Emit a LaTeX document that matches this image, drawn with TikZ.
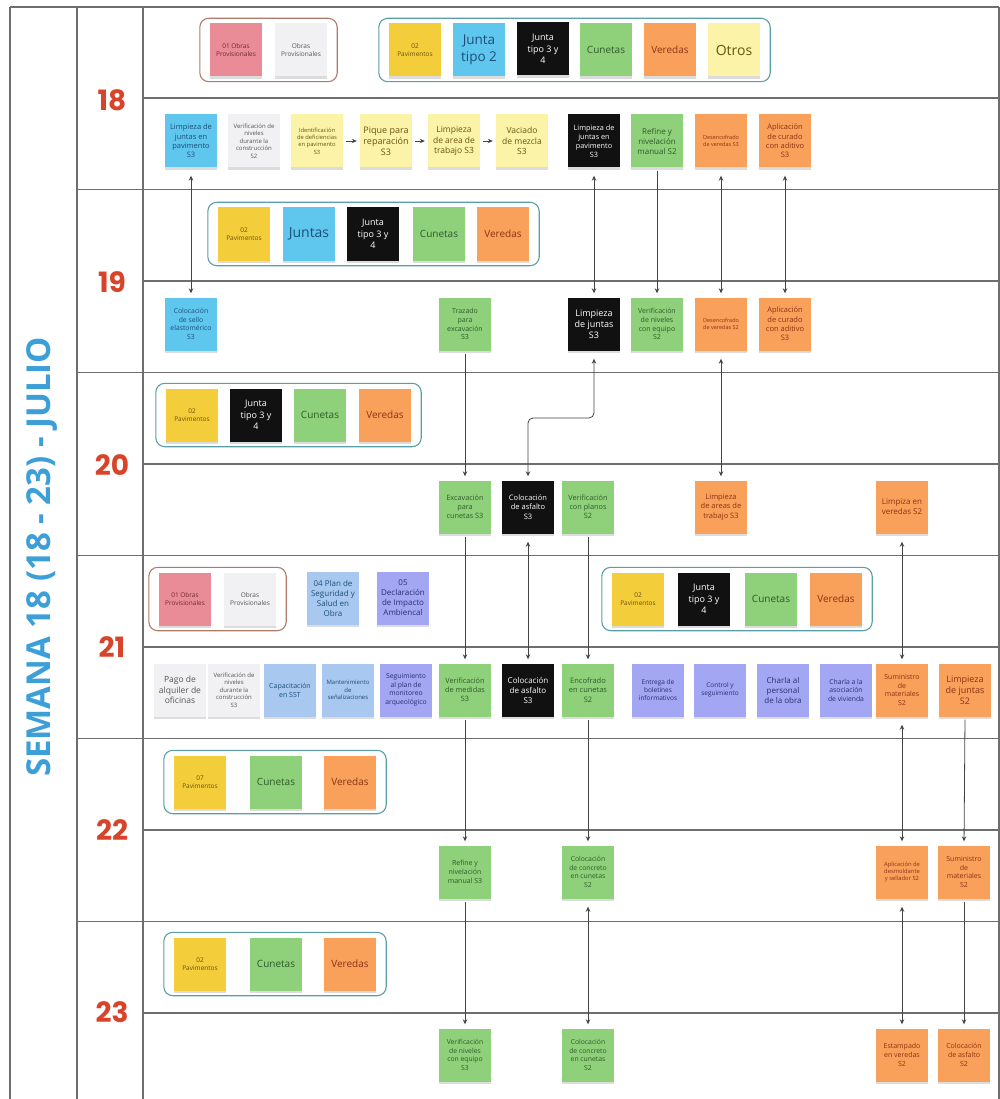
\documentclass[tikz,border=0pt]{standalone}
\usepackage{fontspec}
\usepackage{graphicx}
\setmainfont{Open Sans}
\newfontfamily\dayfont{Poppins}
\usetikzlibrary{arrows.meta,shadows,fit}
\definecolor{pinkN}{HTML}{E98C98}
\definecolor{whiteN}{HTML}{F1F1F3}
\definecolor{yelN}{HTML}{F4CD3A}
\definecolor{blueN}{HTML}{5FC6EE}
\definecolor{blackN}{HTML}{111111}
\definecolor{greenN}{HTML}{8FD07B}
\definecolor{orangeN}{HTML}{F9A05B}
\definecolor{lyelN}{HTML}{FBF4A8}
\definecolor{lblueN}{HTML}{A8C8F0}
\definecolor{purpN}{HTML}{A2A6F3}
\definecolor{greenT}{HTML}{2F5A2A}
\definecolor{orangeT}{HTML}{8A3413}
\definecolor{yelT}{HTML}{6A5211}
\definecolor{blueT}{HTML}{1B4F7A}
\definecolor{purpT}{HTML}{2A2F6E}
\definecolor{whiteT}{HTML}{555555}
\definecolor{pinkT}{HTML}{6E2A33}
\definecolor{grpTeal}{HTML}{5A9EA6}
\definecolor{grpBrown}{HTML}{B07A6A}
\definecolor{gridC}{HTML}{6E6E6E}
\definecolor{connC}{HTML}{444444}
\definecolor{dayRed}{HTML}{D8442A}
\definecolor{semBlue}{HTML}{3C9FD8}
\newcommand\fsz[1]{\fontsize{#1pt}{\dimexpr #1pt*5/4\relax}\selectfont}
\begin{document}
\begin{tikzpicture}[x=1pt,y=-1pt,
  >={Stealth[length=5pt,width=4.5pt]},
  note/.style={minimum width=52pt,minimum height=53pt,inner sep=0.5pt,align=center,
    drop shadow={shadow xshift=0pt,shadow yshift=-2.5pt,opacity=0.28}},
  nY/.style={note,fill=yelN,text=yelT},
  nLY/.style={note,fill=lyelN,text=yelT},
  nB/.style={note,fill=blueN,text=blueT},
  nK/.style={note,fill=blackN,text=white},
  nG/.style={note,fill=greenN,text=greenT},
  nO/.style={note,fill=orangeN,text=orangeT},
  nW/.style={note,fill=whiteN,text=whiteT},
  nP/.style={note,fill=pinkN,text=pinkT},
  nLB/.style={note,fill=lblueN,text=blueT},
  nPU/.style={note,fill=purpN,text=purpT},
  grpT/.style={draw=grpTeal,line width=1.1pt,rounded corners=9pt,inner xsep=10pt,inner ysep=5pt},
  grpB/.style={draw=grpBrown,line width=1.1pt,rounded corners=9pt,inner xsep=10pt,inner ysep=5pt},
  conn/.style={draw=connC,line width=0.8pt},
  gridl/.style={draw=gridC,line width=1.5pt},
  daylab/.style={text=dayRed,font=\dayfont\bfseries\fsz{28}},
]
\useasboundingbox (0,0) rectangle (1000,1099);
% grid
\draw[gridl] (10,7) -- (999,7);
\draw[gridl] (10,7) -- (10,1099);
\draw[gridl] (77,7) -- (77,1099);
\draw[gridl] (143,7) -- (143,1099);
\draw[gridl] (999,7) -- (999,1099);
\foreach \k in {2,4,6,8,10} {\draw[gridl] (77,{6.5+91.5*\k}) -- (999,{6.5+91.5*\k});}
\foreach \k in {1,3,5,7,9,11} {\draw[gridl] (143,{6.5+91.5*\k}) -- (999,{6.5+91.5*\k});}
% labels
\node[rotate=90,text=semBlue,font=\bfseries\fsz{33}] (sem) at (42,557) {SEMANA 18 (18 - 23) - JULIO};
\node[daylab] (d18) at (112,100) {18};
\node[daylab] (d19) at (112,282) {19};
\node[daylab] (d20) at (112,465) {20};
\node[daylab] (d21) at (112,647) {21};
\node[daylab] (d22) at (112,830) {22};
\node[daylab] (d23) at (112,1012) {23};
% ---- row 18 header
\node[nP,font=\fsz{6.5}] (p18) at (236,50) {01 Obras\\Provisionales};
\node[nW,font=\fsz{6.5}] (w18) at (301,50) {Obras\\Provisionales};
\node[grpB,fit=(p18)(w18)] (gb18) {};
\node[nY,font=\fsz{6.5}] (y18) at (415,50) {02\\Pavimentos};
\node[nB,font=\fsz{13.5}] (b18) at (479,50) {Junta\\tipo 2};
\node[nK,font=\fsz{9}] (k18) at (543,49) {Junta\\tipo 3 y\\4};
\node[nG,font=\fsz{10}] (g18) at (606,50) {Cunetas};
\node[nO,font=\fsz{10}] (o18) at (670,50) {Veredas};
\node[nLY,font=\fsz{14}] (ly18) at (734,50) {Otros};
\node[grpT,fit=(y18)(ly18)] (gt18) {};
% ---- row 18 tasks
\node[nB,font=\fsz{7.5}] (t18a) at (191,141) {Limpieza de\\juntas en\\pavimento\\S3};
\node[nW,font=\fsz{6}] (t18b) at (254,141) {Verificación de\\niveles\\durante la\\construcción\\S2};
\node[nLY,font=\fsz{5.8}] (t18c) at (317,141) {Identificación\\de deficiencias\\en pavimento\\S3};
\node[nLY,font=\fsz{9}] (t18d) at (386,141) {Pique para\\reparación\\S3};
\node[nLY,font=\fsz{8.5}] (t18e) at (454,141) {Limpieza\\de area de\\trabajo S3};
\node[nLY,font=\fsz{8.5}] (t18f) at (522,141) {Vaciado\\de mezcla\\S3};
\node[nK,font=\fsz{7.3}] (t18g) at (594,141) {Limpieza de\\juntas en\\pavimento\\S3};
\node[nG,font=\fsz{8}] (t18h) at (657,141) {Refine y\\nivelación\\manual S2};
\node[nO,font=\fsz{5.5}] (t18i) at (721,141) {Desencofrado\\de veredas S3};
\node[nO,font=\fsz{7.5}] (t18j) at (785,141) {Aplicación\\de curado\\con aditivo\\S3};
% ---- row 19 header
\node[nY,font=\fsz{6.5}] (y19) at (244,234) {02\\Pavimentos};
\node[nB,font=\fsz{14}] (b19) at (309,234) {Juntas};
\node[nK,font=\fsz{9}] (k19) at (373,234) {Junta\\tipo 3 y\\4};
\node[nG,font=\fsz{10}] (g19) at (439,234) {Cunetas};
\node[nO,font=\fsz{10}] (o19) at (503,234) {Veredas};
\node[grpT,fit=(y19)(o19)] (gt19) {};
% ---- row 19 tasks
\node[nB,font=\fsz{6.8}] (t19a) at (191,324) {Colocación\\de sello\\elastomérico\\S3};
\node[nG,font=\fsz{7}] (t19b) at (465,324) {Trazado\\para\\excavación\\S3};
\node[nK,font=\fsz{9}] (t19c) at (594,324) {Limpieza\\de juntas\\S3};
\node[nG,font=\fsz{7}] (t19d) at (657,324) {Verificación\\de niveles\\con equipo\\S2};
\node[nO,font=\fsz{5.5}] (t19e) at (721,324) {Desencofrado\\de veredas S2};
\node[nO,font=\fsz{7.5}] (t19f) at (785,324) {Aplicación\\de curado\\con aditivo\\S3};
% ---- row 20 header
\node[nY,font=\fsz{6.5}] (y20) at (192,415) {02\\Pavimentos};
\node[nK,font=\fsz{9}] (k20) at (256,415) {Junta\\tipo 3 y\\4};
\node[nG,font=\fsz{10}] (g20) at (320,415) {Cunetas};
\node[nO,font=\fsz{10}] (o20) at (385,415) {Veredas};
\node[grpT,fit=(y20)(o20)] (gt20) {};
% ---- row 20 tasks
\node[nG,font=\fsz{7.3}] (t20a) at (465,507) {Excavación\\para\\cunetas S3};
\node[nK,font=\fsz{7.5}] (t20b) at (528,507) {Colocación\\de asfalto\\S3};
\node[nG,font=\fsz{7.3}] (t20c) at (588,507) {Verificación\\con planos\\S2};
\node[nO,font=\fsz{7.5}] (t20d) at (721,507) {Limpieza\\de areas de\\trabajo S3};
\node[nO,font=\fsz{8}] (t20e) at (902,507) {Limpiza en\\veredas S2};
% ---- row 21 header
\node[nP,font=\fsz{6.5}] (p21) at (185,599) {01 Obras\\Provisionales};
\node[nW,font=\fsz{6.5}] (w21) at (250,599) {Obras\\Provisionales};
\node[grpB,fit=(p21)(w21)] (gb21) {};
\node[nLB,font=\fsz{8}] (lb21) at (333,598) {04 Plan de\\Seguridad y\\Salud en\\Obra};
\node[nPU,font=\fsz{8}] (pu21) at (403,598) {05\\Declaración\\de Impacto\\Ambiencal};
\node[nY,font=\fsz{6.5}] (y21) at (638,599) {02\\Pavimentos};
\node[nK,font=\fsz{9}] (k21) at (704,599) {Junta\\tipo 3 y\\4};
\node[nG,font=\fsz{10}] (g21) at (771,599) {Cunetas};
\node[nO,font=\fsz{10}] (o21) at (836,599) {Veredas};
\node[grpT,fit=(y21)(o21)] (gt21) {};
% ---- row 21 tasks
\node[nW,font=\fsz{8.5}] (t21a) at (180,690) {Pago de\\alquiler de\\oficinas};
\node[nW,font=\fsz{6}] (t21b) at (234,690) {Verificación de\\niveles\\durante la\\construcción\\S3};
\node[nLB,font=\fsz{7}] (t21c) at (290,690) {Capacitación\\en SST};
\node[nLB,font=\fsz{6}] (t21d) at (348,690) {Mantenimiento\\de\\señalizaciones};
\node[nPU,font=\fsz{6.8}] (t21e) at (406,690) {Seguimiento\\al plan de\\monitoreo\\arqueológico};
\node[nG,font=\fsz{7.3}] (t21f) at (465,690) {Verificación\\de medidas\\S3};
\node[nK,font=\fsz{8}] (t21g) at (528,690) {Colocación\\de asfalto\\S3};
\node[nG,font=\fsz{7.5}] (t21h) at (588,690) {Encofrado\\en cunetas\\S2};
\node[nPU,font=\fsz{6.5}] (t21i) at (658,690) {Entrega de\\boletines\\informativos};
\node[nPU,font=\fsz{6.5}] (t21j) at (720,690) {Control y\\seguimiento};
\node[nPU,font=\fsz{8}] (t21k) at (783,690) {Charla al\\personal\\de la obra};
\node[nPU,font=\fsz{6.8}] (t21l) at (846,690) {Charla a la\\asociación\\de vivienda};
\node[nO,font=\fsz{7}] (t21m) at (902,690) {Suministro\\de\\materiales\\S2};
\node[nO,font=\fsz{9}] (t21n) at (965,690) {Limpieza\\de juntas\\S2};
% ---- row 22 header
\node[nY,font=\fsz{6.5}] (y22) at (200,782) {07\\Pavimentos};
\node[nG,font=\fsz{10}] (g22) at (276,782) {Cunetas};
\node[nO,font=\fsz{10}] (o22) at (350,782) {Veredas};
\node[grpT,fit=(y22)(o22)] (gt22) {};
% ---- row 22 tasks
\node[nG,font=\fsz{7}] (t22a) at (465,872) {Refine y\\nivelación\\manual S3};
\node[nG,font=\fsz{6.8}] (t22b) at (588,872) {Colocación\\de concreto\\en cunetas\\S2};
\node[nO,font=\fsz{5.8}] (t22c) at (902,872) {Aplicación de\\desmoldante\\y sellador S2};
\node[nO,font=\fsz{7}] (t22d) at (964,872) {Suministro\\de\\materiales\\S2};
% ---- row 23 header
\node[nY,font=\fsz{6.5}] (y23) at (200,964) {02\\Pavimentos};
\node[nG,font=\fsz{10}] (g23) at (276,964) {Cunetas};
\node[nO,font=\fsz{10}] (o23) at (350,964) {Veredas};
\node[grpT,fit=(y23)(o23)] (gt23) {};
% ---- row 23 tasks
\node[nG,font=\fsz{6.8}] (t23a) at (465,1055) {Verificación\\de niveles\\con equipo\\S3};
\node[nG,font=\fsz{6.8}] (t23b) at (588,1055) {Colocación\\de concreto\\en cunetas\\S2};
\node[nO,font=\fsz{7}] (t23c) at (902,1055) {Estampado\\en veredas\\S2};
\node[nO,font=\fsz{7}] (t23d) at (964,1055) {Colocación\\de asfalto\\S2};
% ---- connectors
\draw[conn,->,shorten <=3pt,shorten >=3pt] (t18c.east) -- (t18d.west);
\draw[conn,->,shorten <=3pt,shorten >=3pt] (t18d.east) -- (t18e.west);
\draw[conn,->,shorten <=3pt,shorten >=3pt] (t18e.east) -- (t18f.west);
\tikzset{dbl/.style={conn,<->,shorten <=8pt,shorten >=4pt},
         sgl/.style={conn,->,shorten <=3pt,shorten >=4pt}}
\draw[dbl] (t18a.south) -- (t19a.north);
\draw[dbl] (t18g.south) -- (t19c.north);
\draw[sgl] (t18h.south) -- (t19d.north);
\draw[dbl] (t18i.south) -- (t19e.north);
\draw[dbl] (t18j.south) -- (t19f.north);
\draw[sgl] (t19b.south) -- (t20a.north);
\coordinate (elb) at (561,418);
\draw[dbl,rounded corners=5pt] (t19c.south) |- (elb) -| (t20b.north);
\draw[dbl] (t19e.south) -- (t20d.north);
\draw[sgl] (t20a.south) -- (t21f.north);
\draw[dbl] (t20b.south) -- (t21g.north);
\draw[sgl] (t20c.south) -- (t21h.north);
\draw[dbl] (t20e.south) -- (t21m.north);
\draw[sgl] (t21f.south) -- (t22a.north);
\draw[sgl] (t21h.south) -- (t22b.north);
\draw[dbl] (t21m.south) -- (t22c.north);
\draw[sgl] (t21n.south) -- (t22d.north);
\draw[sgl] (t22a.south) -- (t23a.north);
\draw[dbl] (t22b.south) -- (t23b.north);
\draw[dbl] (t22c.south) -- (t23c.north);
\draw[sgl] (t22d.south) -- (t23d.north);
\end{tikzpicture}
\end{document}
